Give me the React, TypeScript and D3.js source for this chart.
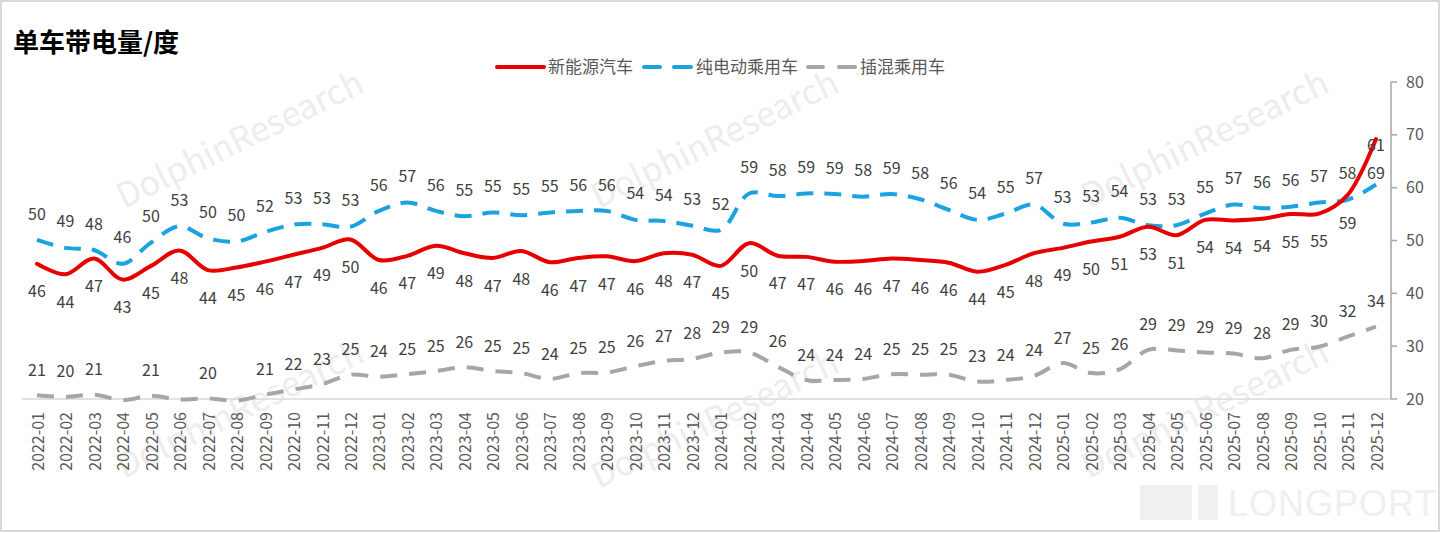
import { useEffect, useRef } from 'react'
import * as d3 from 'd3'

// months 2022-01 .. 2025-12
const months: string[] = []
for (const yr of [2022, 2023, 2024, 2025]) {
  for (let m = 1; m <= 12; m++) months.push(`${yr}-${String(m).padStart(2, '0')}`)
}

const nev = [
  45.6, 43.6, 46.6, 42.6, 45.2, 48.1, 44.4, 44.9, 46.0, 47.3, 48.6, 50.2,
  46.3, 47.1, 49.0, 47.6, 46.7, 48.0, 45.9, 46.7, 47.0, 46.1, 47.6, 47.3,
  45.2, 49.5, 47.1, 46.9, 46.0, 46.1, 46.6, 46.3, 45.8, 44.1, 45.4, 47.6,
  48.6, 49.8, 50.7, 52.6, 51.0, 53.9, 53.8, 54.1, 55.0, 55.1, 58.6, 69.2
]
const bev = [
  50.1, 48.6, 48.2, 45.6, 49.6, 52.7, 50.4, 49.8, 51.6, 53.0, 53.1, 52.6,
  55.6, 57.2, 55.6, 54.6, 55.3, 54.8, 55.3, 55.6, 55.6, 53.9, 53.7, 52.8,
  52.0, 58.9, 58.4, 58.9, 58.8, 58.3, 58.8, 57.8, 55.8, 53.9, 55.1, 56.8,
  53.2, 53.4, 54.3, 52.9, 52.9, 55.1, 56.8, 56.1, 56.4, 57.2, 57.7, 60.6
]
const phev = [
  20.7, 20.4, 20.8, 19.8, 20.6, 19.9, 20.1, 19.7, 20.8, 21.8, 22.8, 24.6,
  24.2, 24.7, 25.3, 26.0, 25.3, 24.9, 23.8, 24.9, 25.0, 26.2, 27.2, 27.6,
  28.8, 28.8, 26.1, 23.6, 23.6, 23.8, 24.7, 24.6, 24.6, 23.3, 23.6, 24.4,
  26.8, 24.9, 25.6, 29.3, 29.2, 28.8, 28.6, 27.7, 29.3, 29.9, 31.8, 33.7
]
const yTicks = [20, 30, 40, 50, 60, 70, 80]
const title = '单车带电量/度'

const series = [
  { name: '新能源汽车', values: nev, color: '#e60000', dash: null as string | null, labelDy: 28 },
  { name: '纯电动乘用车', values: bev, color: '#1aa3e0', dash: '17,11', labelDy: -26 },
  { name: '插混乘用车', values: phev, color: '#a6a6a6', dash: '17,12', labelDy: -25 }
]

const W = 1440
const H = 533
const FONT = '"Noto Sans CJK SC", "Noto Sans", sans-serif'

export default function App() {
  const ref = useRef<SVGSVGElement>(null)

  useEffect(() => {
    if (!ref.current) return
    const svg = d3.select(ref.current)
    svg.selectAll('*').remove()

    const x = d3.scalePoint<string>().domain(months).range([37, 1376])
    const y = d3.scaleLinear().domain([20, 80]).range([399, 82])
    const last = months.length - 1

    svg.append('rect').attr('width', W).attr('height', H).attr('fill', '#fff')
    svg.append('rect')
      .attr('x', 1).attr('y', 1).attr('width', W - 2).attr('height', H - 3)
      .attr('fill', 'none').attr('stroke', '#d9d9d9').attr('stroke-width', 2)

    // watermarks
    const wm = svg.append('g').attr('fill', '#ededed').attr('font-family', FONT)
    const marks = [[245, 150], [720, 150], [1210, 150], [245, 420], [720, 430], [1210, 420]]
    marks.forEach(([cx, cy]) => {
      wm.append('text')
        .attr('transform', `translate(${cx},${cy}) rotate(-26)`)
        .attr('text-anchor', 'middle')
        .attr('font-size', 34)
        .text('DolphinResearch')
    })
    wm.append('rect').attr('x', 1140).attr('y', 485).attr('width', 52).attr('height', 35).attr('fill', '#f0f0f0')
    wm.append('rect').attr('x', 1198).attr('y', 485).attr('width', 20).attr('height', 35).attr('fill', '#f0f0f0')
    wm.append('text')
      .attr('x', 1228).attr('y', 516)
      .attr('font-size', 36)
      .attr('font-family', '"Liberation Sans", sans-serif')
      .attr('letter-spacing', 1)
      .attr('fill', '#efefef')
      .text('LONGPORT')

    // title
    svg.append('text')
      .attr('x', 13).attr('y', 52)
      .attr('font-family', FONT)
      .attr('font-weight', 700)
      .attr('font-size', 26)
      .attr('fill', '#000')
      .text(title)

    // baseline
    svg.append('line')
      .attr('x1', 22).attr('x2', 1391)
      .attr('y1', y(20)).attr('y2', y(20))
      .attr('stroke', '#d9d9d9').attr('stroke-width', 1.5)

    // right axis
    const axis = svg.append('g').attr('stroke', '#a6a6a6').attr('stroke-width', 1.5)
    axis.append('line').attr('x1', 1391).attr('x2', 1391).attr('y1', y(80)).attr('y2', y(20))
    yTicks.forEach(t => {
      axis.append('line').attr('x1', 1391).attr('x2', 1397).attr('y1', y(t)).attr('y2', y(t))
    })
    svg.append('g')
      .selectAll('text')
      .data(yTicks)
      .join('text')
      .attr('x', 1406)
      .attr('y', d => y(d))
      .attr('dy', '0.35em')
      .attr('font-family', FONT)
      .attr('font-size', 16)
      .attr('fill', '#595959')
      .text(d => d)

    // x labels
    svg.append('g')
      .selectAll('text')
      .data(months)
      .join('text')
      .attr('transform', d => `translate(${x(d)! + 1},412) rotate(-90)`)
      .attr('text-anchor', 'end')
      .attr('dy', '0.35em')
      .attr('font-family', FONT)
      .attr('font-size', 16)
      .attr('fill', '#595959')
      .text(d => d)

    // lines
    const line = d3.line<number>()
      .x((_, i) => x(months[i])!)
      .y(d => y(d))
      .curve(d3.curveCatmullRom.alpha(0.5))

    const order = [2, 1, 0]
    order.forEach(si => {
      const s = series[si]
      const p = svg.append('path')
        .attr('d', line(s.values))
        .attr('fill', 'none')
        .attr('stroke', s.color)
        .attr('stroke-width', 4)
        .attr('stroke-linejoin', 'round')
      if (s.dash) p.attr('stroke-dasharray', s.dash)
      else p.attr('stroke-linecap', 'round')
    })

    // data labels (the two end labels crowd each other, nudge them apart)
    series.forEach((s, si) => {
      svg.append('g')
        .selectAll('text')
        .data(s.values.map((v, i) => ({ v, i })).filter(d => d.v >= 20))
        .join('text')
        .attr('x', d => x(months[d.i])!)
        .attr('y', d => {
          let off = s.labelDy
          if (d.i === last && si === 0) off += 6
          if (d.i === last && si === 1) off -= 13
          return y(d.v) + off
        })
        .attr('dy', '0.35em')
        .attr('text-anchor', 'middle')
        .attr('font-family', FONT)
        .attr('font-size', 16)
        .attr('fill', '#404040')
        .text(d => Math.round(d.v))
    })

    // legend
    const lg = svg.append('g').attr('font-family', FONT).attr('font-size', 17).attr('fill', '#595959')
    const ly = 67
    lg.append('line').attr('x1', 497).attr('x2', 544).attr('y1', ly).attr('y2', ly)
      .attr('stroke', series[0].color).attr('stroke-width', 4).attr('stroke-linecap', 'round')
    lg.append('text').attr('x', 548).attr('y', ly).attr('dy', '0.35em').text(series[0].name)
    ;[[644, 660], [674, 691]].forEach(([a, b]) => {
      lg.append('line').attr('x1', a).attr('x2', b).attr('y1', ly).attr('y2', ly)
        .attr('stroke', series[1].color).attr('stroke-width', 4).attr('stroke-linecap', 'round')
    })
    lg.append('text').attr('x', 696).attr('y', ly).attr('dy', '0.35em').text(series[1].name)
    ;[[808, 823], [839, 855]].forEach(([a, b]) => {
      lg.append('line').attr('x1', a).attr('x2', b).attr('y1', ly).attr('y2', ly)
        .attr('stroke', series[2].color).attr('stroke-width', 4).attr('stroke-linecap', 'round')
    })
    lg.append('text').attr('x', 860).attr('y', ly).attr('dy', '0.35em').text(series[2].name)
  }, [])

  return (
    <div style={{ position: 'absolute', left: 0, top: 0 }}>
      <svg ref={ref} width={W} height={H} style={{ display: 'block' }} />
    </div>
  )
}
